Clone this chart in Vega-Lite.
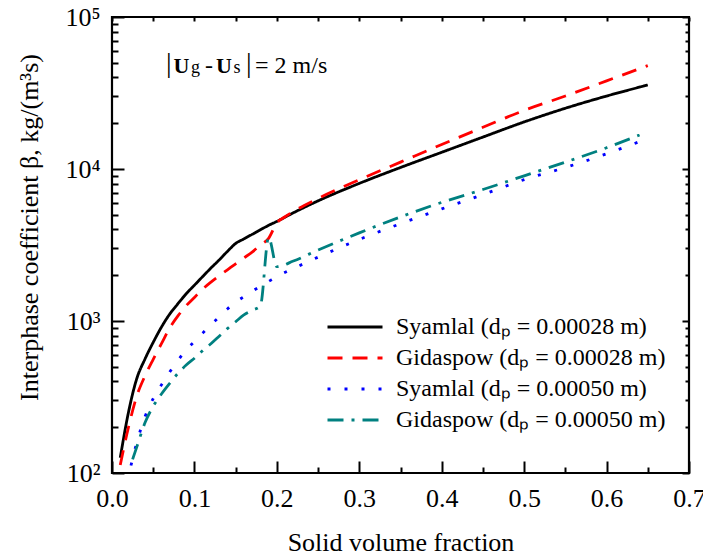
{
  "$schema": "https://vega.github.io/schema/vega-lite/v6.json",
  "width": 577,
  "height": 456,
  "autosize": {"type": "none"},
  "padding": {"left": 112, "top": 17, "right": 14, "bottom": 87},
  "background": "white",
  "config": {
    "view": {"stroke": "black", "strokeWidth": 2.2},
    "font": "Liberation Serif",
    "axis": {
      "domain": false,
      "grid": false,
      "tickColor": "black",
      "tickWidth": 2,
      "labelColor": "black",
      "labelFont": "Liberation Serif",
      "labelFontSize": 26,
      "titleFont": "Liberation Serif",
      "titleFontSize": 26,
      "titleFontWeight": "normal",
      "titleColor": "black",
      "labelOverlap": false,
      "labelFlush": false,
      "labelBound": false
    }
  },
  "datasets": {
    "curves": [
      {"model": "Syamlal (dₚ = 0.00028 m)", "phi": 0.01, "beta": 126},
      {"model": "Syamlal (dₚ = 0.00028 m)", "phi": 0.02, "beta": 251},
      {"model": "Syamlal (dₚ = 0.00028 m)", "phi": 0.03, "beta": 417},
      {"model": "Syamlal (dₚ = 0.00028 m)", "phi": 0.04, "beta": 562},
      {"model": "Syamlal (dₚ = 0.00028 m)", "phi": 0.05, "beta": 724},
      {"model": "Syamlal (dₚ = 0.00028 m)", "phi": 0.06, "beta": 912},
      {"model": "Syamlal (dₚ = 0.00028 m)", "phi": 0.07, "beta": 1110},
      {"model": "Syamlal (dₚ = 0.00028 m)", "phi": 0.08, "beta": 1300},
      {"model": "Syamlal (dₚ = 0.00028 m)", "phi": 0.09, "beta": 1510},
      {"model": "Syamlal (dₚ = 0.00028 m)", "phi": 0.10, "beta": 1720},
      {"model": "Syamlal (dₚ = 0.00028 m)", "phi": 0.11, "beta": 1960},
      {"model": "Syamlal (dₚ = 0.00028 m)", "phi": 0.12, "beta": 2230},
      {"model": "Syamlal (dₚ = 0.00028 m)", "phi": 0.13, "beta": 2520},
      {"model": "Syamlal (dₚ = 0.00028 m)", "phi": 0.14, "beta": 2870},
      {"model": "Syamlal (dₚ = 0.00028 m)", "phi": 0.15, "beta": 3236},
      {"model": "Syamlal (dₚ = 0.00028 m)", "phi": 0.16, "beta": 3470},
      {"model": "Syamlal (dₚ = 0.00028 m)", "phi": 0.17, "beta": 3715},
      {"model": "Syamlal (dₚ = 0.00028 m)", "phi": 0.18, "beta": 3980},
      {"model": "Syamlal (dₚ = 0.00028 m)", "phi": 0.19, "beta": 4260},
      {"model": "Syamlal (dₚ = 0.00028 m)", "phi": 0.20, "beta": 4520},
      {"model": "Syamlal (dₚ = 0.00028 m)", "phi": 0.22, "beta": 5150},
      {"model": "Syamlal (dₚ = 0.00028 m)", "phi": 0.25, "beta": 6170},
      {"model": "Syamlal (dₚ = 0.00028 m)", "phi": 0.30, "beta": 8040},
      {"model": "Syamlal (dₚ = 0.00028 m)", "phi": 0.35, "beta": 10230},
      {"model": "Syamlal (dₚ = 0.00028 m)", "phi": 0.40, "beta": 12880},
      {"model": "Syamlal (dₚ = 0.00028 m)", "phi": 0.45, "beta": 16220},
      {"model": "Syamlal (dₚ = 0.00028 m)", "phi": 0.50, "beta": 20400},
      {"model": "Syamlal (dₚ = 0.00028 m)", "phi": 0.55, "beta": 25100},
      {"model": "Syamlal (dₚ = 0.00028 m)", "phi": 0.60, "beta": 30200},
      {"model": "Syamlal (dₚ = 0.00028 m)", "phi": 0.65, "beta": 35700},

      {"model": "Gidaspow (dₚ = 0.00028 m)", "phi": 0.01, "beta": 113},
      {"model": "Gidaspow (dₚ = 0.00028 m)", "phi": 0.02, "beta": 200},
      {"model": "Gidaspow (dₚ = 0.00028 m)", "phi": 0.03, "beta": 320},
      {"model": "Gidaspow (dₚ = 0.00028 m)", "phi": 0.04, "beta": 435},
      {"model": "Gidaspow (dₚ = 0.00028 m)", "phi": 0.05, "beta": 560},
      {"model": "Gidaspow (dₚ = 0.00028 m)", "phi": 0.06, "beta": 710},
      {"model": "Gidaspow (dₚ = 0.00028 m)", "phi": 0.07, "beta": 900},
      {"model": "Gidaspow (dₚ = 0.00028 m)", "phi": 0.08, "beta": 1080},
      {"model": "Gidaspow (dₚ = 0.00028 m)", "phi": 0.09, "beta": 1260},
      {"model": "Gidaspow (dₚ = 0.00028 m)", "phi": 0.10, "beta": 1430},
      {"model": "Gidaspow (dₚ = 0.00028 m)", "phi": 0.11, "beta": 1620},
      {"model": "Gidaspow (dₚ = 0.00028 m)", "phi": 0.12, "beta": 1800},
      {"model": "Gidaspow (dₚ = 0.00028 m)", "phi": 0.13, "beta": 1980},
      {"model": "Gidaspow (dₚ = 0.00028 m)", "phi": 0.14, "beta": 2170},
      {"model": "Gidaspow (dₚ = 0.00028 m)", "phi": 0.15, "beta": 2380},
      {"model": "Gidaspow (dₚ = 0.00028 m)", "phi": 0.16, "beta": 2600},
      {"model": "Gidaspow (dₚ = 0.00028 m)", "phi": 0.17, "beta": 2840},
      {"model": "Gidaspow (dₚ = 0.00028 m)", "phi": 0.18, "beta": 3160},
      {"model": "Gidaspow (dₚ = 0.00028 m)", "phi": 0.19, "beta": 3500},
      {"model": "Gidaspow (dₚ = 0.00028 m)", "phi": 0.20, "beta": 4420},
      {"model": "Gidaspow (dₚ = 0.00028 m)", "phi": 0.21, "beta": 4850},
      {"model": "Gidaspow (dₚ = 0.00028 m)", "phi": 0.22, "beta": 5250},
      {"model": "Gidaspow (dₚ = 0.00028 m)", "phi": 0.25, "beta": 6400},
      {"model": "Gidaspow (dₚ = 0.00028 m)", "phi": 0.30, "beta": 8500},
      {"model": "Gidaspow (dₚ = 0.00028 m)", "phi": 0.35, "beta": 11100},
      {"model": "Gidaspow (dₚ = 0.00028 m)", "phi": 0.40, "beta": 14500},
      {"model": "Gidaspow (dₚ = 0.00028 m)", "phi": 0.45, "beta": 18800},
      {"model": "Gidaspow (dₚ = 0.00028 m)", "phi": 0.50, "beta": 24300},
      {"model": "Gidaspow (dₚ = 0.00028 m)", "phi": 0.55, "beta": 30200},
      {"model": "Gidaspow (dₚ = 0.00028 m)", "phi": 0.60, "beta": 38000},
      {"model": "Gidaspow (dₚ = 0.00028 m)", "phi": 0.65, "beta": 47900},

      {"model": "Syamlal (dₚ = 0.00050 m)", "phi": 0.023, "beta": 112},
      {"model": "Syamlal (dₚ = 0.00050 m)", "phi": 0.03, "beta": 158},
      {"model": "Syamlal (dₚ = 0.00050 m)", "phi": 0.04, "beta": 234},
      {"model": "Syamlal (dₚ = 0.00050 m)", "phi": 0.05, "beta": 309},
      {"model": "Syamlal (dₚ = 0.00050 m)", "phi": 0.06, "beta": 380},
      {"model": "Syamlal (dₚ = 0.00050 m)", "phi": 0.07, "beta": 462},
      {"model": "Syamlal (dₚ = 0.00050 m)", "phi": 0.08, "beta": 550},
      {"model": "Syamlal (dₚ = 0.00050 m)", "phi": 0.09, "beta": 646},
      {"model": "Syamlal (dₚ = 0.00050 m)", "phi": 0.10, "beta": 733},
      {"model": "Syamlal (dₚ = 0.00050 m)", "phi": 0.11, "beta": 832},
      {"model": "Syamlal (dₚ = 0.00050 m)", "phi": 0.12, "beta": 944},
      {"model": "Syamlal (dₚ = 0.00050 m)", "phi": 0.13, "beta": 1064},
      {"model": "Syamlal (dₚ = 0.00050 m)", "phi": 0.14, "beta": 1200},
      {"model": "Syamlal (dₚ = 0.00050 m)", "phi": 0.15, "beta": 1330},
      {"model": "Syamlal (dₚ = 0.00050 m)", "phi": 0.16, "beta": 1445},
      {"model": "Syamlal (dₚ = 0.00050 m)", "phi": 0.17, "beta": 1567},
      {"model": "Syamlal (dₚ = 0.00050 m)", "phi": 0.18, "beta": 1690},
      {"model": "Syamlal (dₚ = 0.00050 m)", "phi": 0.19, "beta": 1820},
      {"model": "Syamlal (dₚ = 0.00050 m)", "phi": 0.20, "beta": 1960},
      {"model": "Syamlal (dₚ = 0.00050 m)", "phi": 0.22, "beta": 2213},
      {"model": "Syamlal (dₚ = 0.00050 m)", "phi": 0.25, "beta": 2630},
      {"model": "Syamlal (dₚ = 0.00050 m)", "phi": 0.30, "beta": 3440},
      {"model": "Syamlal (dₚ = 0.00050 m)", "phi": 0.35, "beta": 4365},
      {"model": "Syamlal (dₚ = 0.00050 m)", "phi": 0.40, "beta": 5460},
      {"model": "Syamlal (dₚ = 0.00050 m)", "phi": 0.45, "beta": 6790},
      {"model": "Syamlal (dₚ = 0.00050 m)", "phi": 0.50, "beta": 8510},
      {"model": "Syamlal (dₚ = 0.00050 m)", "phi": 0.55, "beta": 10230},
      {"model": "Syamlal (dₚ = 0.00050 m)", "phi": 0.60, "beta": 12590},
      {"model": "Syamlal (dₚ = 0.00050 m)", "phi": 0.64, "beta": 15140},

      {"model": "Gidaspow (dₚ = 0.00050 m)", "phi": 0.025, "beta": 123},
      {"model": "Gidaspow (dₚ = 0.00050 m)", "phi": 0.03, "beta": 148},
      {"model": "Gidaspow (dₚ = 0.00050 m)", "phi": 0.04, "beta": 214},
      {"model": "Gidaspow (dₚ = 0.00050 m)", "phi": 0.05, "beta": 275},
      {"model": "Gidaspow (dₚ = 0.00050 m)", "phi": 0.06, "beta": 331},
      {"model": "Gidaspow (dₚ = 0.00050 m)", "phi": 0.07, "beta": 389},
      {"model": "Gidaspow (dₚ = 0.00050 m)", "phi": 0.08, "beta": 452},
      {"model": "Gidaspow (dₚ = 0.00050 m)", "phi": 0.09, "beta": 513},
      {"model": "Gidaspow (dₚ = 0.00050 m)", "phi": 0.10, "beta": 569},
      {"model": "Gidaspow (dₚ = 0.00050 m)", "phi": 0.11, "beta": 638},
      {"model": "Gidaspow (dₚ = 0.00050 m)", "phi": 0.12, "beta": 708},
      {"model": "Gidaspow (dₚ = 0.00050 m)", "phi": 0.13, "beta": 794},
      {"model": "Gidaspow (dₚ = 0.00050 m)", "phi": 0.14, "beta": 891},
      {"model": "Gidaspow (dₚ = 0.00050 m)", "phi": 0.15, "beta": 989},
      {"model": "Gidaspow (dₚ = 0.00050 m)", "phi": 0.16, "beta": 1096},
      {"model": "Gidaspow (dₚ = 0.00050 m)", "phi": 0.17, "beta": 1175},
      {"model": "Gidaspow (dₚ = 0.00050 m)", "phi": 0.18, "beta": 1259},
      {"model": "Gidaspow (dₚ = 0.00050 m)", "phi": 0.19, "beta": 3550},
      {"model": "Gidaspow (dₚ = 0.00050 m)", "phi": 0.20, "beta": 2276},
      {"model": "Gidaspow (dₚ = 0.00050 m)", "phi": 0.22, "beta": 2480},
      {"model": "Gidaspow (dₚ = 0.00050 m)", "phi": 0.25, "beta": 2930},
      {"model": "Gidaspow (dₚ = 0.00050 m)", "phi": 0.30, "beta": 3800},
      {"model": "Gidaspow (dₚ = 0.00050 m)", "phi": 0.35, "beta": 4840},
      {"model": "Gidaspow (dₚ = 0.00050 m)", "phi": 0.40, "beta": 6030},
      {"model": "Gidaspow (dₚ = 0.00050 m)", "phi": 0.45, "beta": 7330},
      {"model": "Gidaspow (dₚ = 0.00050 m)", "phi": 0.50, "beta": 9020},
      {"model": "Gidaspow (dₚ = 0.00050 m)", "phi": 0.55, "beta": 11100},
      {"model": "Gidaspow (dₚ = 0.00050 m)", "phi": 0.60, "beta": 13800},
      {"model": "Gidaspow (dₚ = 0.00050 m)", "phi": 0.64, "beta": 16750}
    ]
  },
  "layer": [
    {
      "data": {"name": "curves"},
      "mark": {"type": "line", "strokeWidth": 2.8, "clip": true, "interpolate": "monotone"},
      "encoding": {
        "x": {
          "field": "phi",
          "type": "quantitative",
          "scale": {"domain": [0, 0.7], "nice": false, "zero": false},
          "axis": {
            "orient": "bottom",
            "title": "Solid volume fraction",
            "values": [0, 0.05, 0.1, 0.15, 0.2, 0.25, 0.3, 0.35, 0.4, 0.45, 0.5, 0.55, 0.6, 0.65, 0.7],
            "labelExpr": "abs(datum.value * 10 - round(datum.value * 10)) < 0.001 ? format(datum.value, '.1f') : ''",
            "tickSize": {"condition": {"test": "abs(datum.value * 10 - round(datum.value * 10)) < 0.001", "value": -12}, "value": -6},
            "labelPadding": 24,
            "titleY": 77,
            "titleBaseline": "alphabetic"
          }
        },
        "y": {
          "field": "beta",
          "type": "quantitative",
          "scale": {"type": "log", "domain": [100, 100000], "nice": false},
          "axis": {
            "orient": "left",
            "title": "Interphase coefficient β, kg/(m³s)",
            "values": [100, 200, 300, 400, 500, 600, 700, 800, 900, 1000, 2000, 3000, 4000, 5000, 6000, 7000, 8000, 9000, 10000, 20000, 30000, 40000, 50000, 60000, 70000, 80000, 90000, 100000],
            "labelExpr": "datum.value == 100 ? '10²' : datum.value == 1000 ? '10³' : datum.value == 10000 ? '10⁴' : datum.value == 100000 ? '10⁵' : ''",
            "tickSize": {"condition": {"test": "indexof([100, 1000, 10000, 100000], datum.value) >= 0", "value": -12}, "value": -6},
            "labelFontSize": 26,
            "labelPadding": 24,
            "titleX": -75,
            "titleY": 210,
            "titleAlign": "center",
            "titleBaseline": "alphabetic"
          }
        },
        "color": {
          "field": "model",
          "type": "nominal",
          "scale": {
            "domain": ["Syamlal (dₚ = 0.00028 m)", "Gidaspow (dₚ = 0.00028 m)", "Syamlal (dₚ = 0.00050 m)", "Gidaspow (dₚ = 0.00050 m)"],
            "range": ["#000000", "#ff0000", "#0000ff", "#008080"]
          },
          "legend": {
            "title": null,
            "orient": "none",
            "legendX": 231,
            "legendY": 298,
            "symbolType": "M-5.5,0H5.5",
            "symbolSize": 100,
            "symbolStrokeWidth": 2.8,
            "labelFont": "Liberation Serif",
            "labelFontSize": 24,
            "labelColor": "black",
            "labelOffset": 29,
            "labelLimit": 400,
            "rowPadding": 7
          }
        },
        "strokeDash": {
          "field": "model",
          "type": "nominal",
          "scale": {
            "domain": ["Syamlal (dₚ = 0.00028 m)", "Gidaspow (dₚ = 0.00028 m)", "Syamlal (dₚ = 0.00050 m)", "Gidaspow (dₚ = 0.00050 m)"],
            "range": [[1, 0], [15, 10], [3, 14], [16, 8, 3, 8]]
          },
          "legend": {
            "title": null,
            "orient": "none",
            "legendX": 231,
            "legendY": 298,
            "symbolType": "M-5.5,0H5.5",
            "symbolSize": 100,
            "symbolStrokeWidth": 2.8,
            "labelFont": "Liberation Serif",
            "labelFontSize": 24,
            "labelColor": "black",
            "labelOffset": 29,
            "labelLimit": 400,
            "rowPadding": 7
          }
        }
      }
    },
    {
      "data": {"name": "curves"},
      "mark": {"type": "point", "opacity": 0},
      "encoding": {
        "x": {
          "field": "phi",
          "type": "quantitative",
          "axis": {
            "orient": "top",
            "title": null,
            "labels": false,
            "values": [0, 0.05, 0.1, 0.15, 0.2, 0.25, 0.3, 0.35, 0.4, 0.45, 0.5, 0.55, 0.6, 0.65, 0.7],
            "tickSize": -4
          }
        },
        "y": {
          "field": "beta",
          "type": "quantitative",
          "axis": {
            "orient": "right",
            "title": null,
            "labels": false,
            "values": [100, 200, 300, 400, 500, 600, 700, 800, 900, 1000, 2000, 3000, 4000, 5000, 6000, 7000, 8000, 9000, 10000, 20000, 30000, 40000, 50000, 60000, 70000, 80000, 90000, 100000],
            "tickSize": {"condition": {"test": "indexof([100, 1000, 10000, 100000], datum.value) >= 0", "value": -7}, "value": -4}
          }
        }
      }
    },
    {
      "data": {"values": [{"x": 0.0655, "t": "|"}, {"x": 0.1626, "t": "|"}]},
      "mark": {"type": "text", "align": "left", "baseline": "alphabetic", "font": "Liberation Serif", "fontSize": 28, "color": "black"},
      "encoding": {
        "x": {"field": "x", "type": "quantitative", "axis": null},
        "y": {"datum": 43500, "type": "quantitative", "axis": null},
        "text": {"field": "t"}
      }
    },
    {
      "data": {"values": [{"x": 0.0745, "t": "U"}, {"x": 0.1262, "t": "U"}]},
      "mark": {"type": "text", "align": "left", "baseline": "alphabetic", "font": "Liberation Serif", "fontSize": 22, "fontWeight": "bold", "color": "black"},
      "encoding": {
        "x": {"field": "x", "type": "quantitative", "axis": null},
        "y": {"datum": 42800, "type": "quantitative", "axis": null},
        "text": {"field": "t"}
      }
    },
    {
      "data": {"values": [{"x": 0.0959, "t": "g"}, {"x": 0.1475, "t": "s"}]},
      "mark": {"type": "text", "align": "left", "baseline": "alphabetic", "font": "Liberation Serif", "fontSize": 18, "color": "black"},
      "encoding": {
        "x": {"field": "x", "type": "quantitative", "axis": null},
        "y": {"datum": 42800, "type": "quantitative", "axis": null},
        "text": {"field": "t"}
      }
    },
    {
      "data": {"values": [{"x": 0.1129, "t": "-"}, {"x": 0.1735, "t": "= 2 m/s"}]},
      "mark": {"type": "text", "align": "left", "baseline": "alphabetic", "font": "Liberation Serif", "fontSize": 24, "color": "black"},
      "encoding": {
        "x": {"field": "x", "type": "quantitative", "axis": null},
        "y": {"datum": 42800, "type": "quantitative", "axis": null},
        "text": {"field": "t"}
      }
    }
  ],
  "resolve": {"axis": {"x": "independent", "y": "independent"}}
}
